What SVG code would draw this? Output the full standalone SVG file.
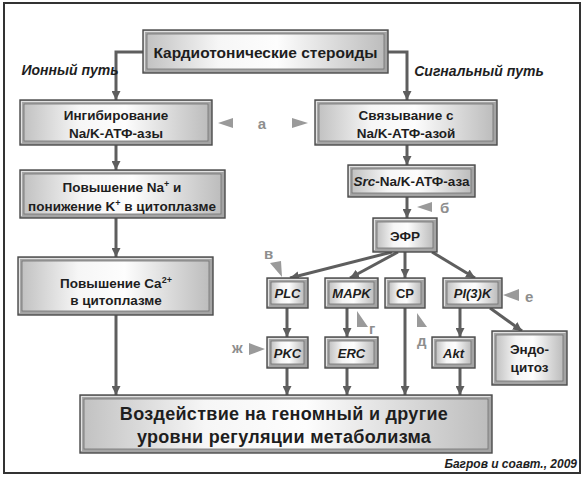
<svg xmlns="http://www.w3.org/2000/svg" width="586" height="482" viewBox="0 0 586 482">
<style>
.bo{fill:#a4a4a4;stroke:#4a4a4a;stroke-width:1.4}
.bi{fill:url(#g);stroke:#707070;stroke-width:0.8}
.hl{fill:none;stroke:#e2e2e2;stroke-width:1.2}
.t{font-family:"Liberation Sans",Arial,sans-serif;font-weight:bold;fill:#1e1e1e;text-anchor:middle}
.n{font-size:13.5px}
.i{font-style:italic}
.s{font-size:13px}
.lb{font-family:"Liberation Sans",Arial,sans-serif;font-weight:bold;fill:#8e8e8e;font-size:15px}
.tri{fill:#9a9a9a}
.c{fill:none;stroke:#5e5e5e;stroke-width:3;marker-end:url(#ah)}
</style>
<defs>
<linearGradient id="g" x1="0" y1="0" x2="1" y2="0">
<stop offset="0" stop-color="#c2c2c2"/>
<stop offset="0.3" stop-color="#f6f6f6"/>
<stop offset="0.55" stop-color="#fdfdfd"/>
<stop offset="1" stop-color="#bdbdbd"/>
</linearGradient>
<marker id="ah" viewBox="0 0 10 10" refX="10" refY="5" markerWidth="9" markerHeight="9" markerUnits="userSpaceOnUse" orient="auto">
<path d="M0,0 L10,5 L0,10 z" fill="#5e5e5e"/>
</marker>
</defs>
<rect x="0" y="0" width="586" height="482" fill="#ffffff"/>
<rect x="4" y="3" width="576" height="470" fill="none" stroke="#333" stroke-width="2"/>

<g id="connectors">
<path class="c" d="M143,52 H116 V100"/>
<path class="c" d="M388,52 H407 V100"/>
<path class="c" d="M116,145 V170"/>
<path class="c" d="M116,218 V257"/>
<path class="c" d="M116,315 V395"/>
<path class="c" d="M407,145 V165"/>
<path class="c" d="M407,197 V218"/>
<path class="c" d="M392,252 L290,278"/>
<path class="c" d="M398,252 L350,278"/>
<path class="c" d="M405,252 V278"/>
<path class="c" d="M432,252 L475,278"/>
<path class="c" d="M287,308 V337"/>
<path class="c" d="M347,308 V337"/>
<path class="c" d="M460,308 V337"/>
<path class="c" d="M490,308 L522,331"/>
<path class="c" d="M287,368 V395"/>
<path class="c" d="M347,368 V395"/>
<path class="c" d="M405,308 V395"/>
<path class="c" d="M460,368 V395"/>
</g>

<g id="n-top">
<rect class="bo" x="143" y="30" width="245" height="43"/>
<path class="hl" d="M144.5,71 V31.5 H386.5"/>
<rect class="bi" x="147" y="34" width="237" height="35"/>
<text class="t" x="265.5" y="57.5" font-size="15.5">Кардиотонические стероиды</text>
</g>

<text class="t i" x="70" y="75" font-size="14">Ионный путь</text>
<text class="t i" x="479" y="76" font-size="14">Сигнальный путь</text>

<g id="n-inh">
<rect class="bo" x="20" y="100" width="192" height="45"/>
<path class="hl" d="M21.5,143 V101.5 H210.5"/>
<rect class="bi" x="24" y="104" width="184" height="37"/>
<text class="t n" x="116" y="120">Ингибирование</text>
<text class="t n" x="116" y="138">Na/K-АТФ-азы</text>
</g>

<g id="n-bind">
<rect class="bo" x="315" y="100" width="182" height="45"/>
<path class="hl" d="M316.5,143 V101.5 H495.5"/>
<rect class="bi" x="319" y="104" width="174" height="37"/>
<text class="t n" x="406" y="120">Связывание с</text>
<text class="t n" x="406" y="138">Na/K-АТФ-азой</text>
</g>

<g id="lbl-a">
<path class="tri" d="M218,123 L233,118 L233,128 z"/>
<text class="lb" x="262" y="129" font-size="16" text-anchor="middle">а</text>
<path class="tri" d="M308,123 L292,118 L292,128 z"/>
</g>

<g id="n-na">
<rect class="bo" x="20" y="170" width="205" height="48"/>
<path class="hl" d="M21.5,216 V171.5 H223.5"/>
<rect class="bi" x="24" y="174" width="197" height="40"/>
<text class="t n" x="122" y="192">Повышение Na<tspan font-size="9" dy="-5">+</tspan><tspan dy="5"> и</tspan></text>
<text class="t n" x="122" y="211">понижение K<tspan font-size="9" dy="-5">+</tspan><tspan dy="5"> в цитоплазме</tspan></text>
</g>

<g id="n-ca">
<rect class="bo" x="18" y="257" width="195" height="58"/>
<path class="hl" d="M19.5,313 V258.5 H211.5"/>
<rect class="bi" x="22" y="261" width="187" height="50"/>
<text class="t n" x="116" y="288">Повышение Ca<tspan font-size="9" dy="-5">2+</tspan></text>
<text class="t n" x="116" y="305">в цитоплазме</text>
</g>

<g id="n-src">
<rect class="bo" x="348" y="165" width="127" height="32"/>
<path class="hl" d="M349.5,195 V166.5 H473.5"/>
<rect class="bi" x="352" y="169" width="119" height="24"/>
<text class="t n" x="411.5" y="186"><tspan font-style="italic">Src</tspan>-Na/K-АТФ-аза</text>
</g>

<g id="lbl-b">
<path class="tri" d="M417,207 L432,202 L432,212 z"/>
<text class="lb" x="440" y="213" font-size="16">б</text>
</g>

<g id="n-efr">
<rect class="bo" x="373" y="218" width="64" height="34"/>
<path class="hl" d="M374.5,250 V219.5 H435.5"/>
<rect class="bi" x="377" y="222" width="56" height="26"/>
<text class="t n" x="405" y="240.5">ЭФР</text>
</g>

<g id="n-plc">
<rect class="bo" x="267" y="278" width="41" height="30"/>
<path class="hl" d="M268.5,306 V279.5 H306.5"/>
<rect class="bi" x="271" y="282" width="33" height="22"/>
<text class="t s i" x="287.5" y="298">PLC</text>
</g>

<g id="n-mapk">
<rect class="bo" x="325" y="278" width="53" height="30"/>
<path class="hl" d="M326.5,306 V279.5 H376.5"/>
<rect class="bi" x="329" y="282" width="45" height="22"/>
<text class="t s i" x="351.5" y="298">MAPK</text>
</g>

<g id="n-cp">
<rect class="bo" x="385" y="278" width="40" height="30"/>
<path class="hl" d="M386.5,306 V279.5 H423.5"/>
<rect class="bi" x="389" y="282" width="32" height="22"/>
<text class="t s" x="405" y="298">CP</text>
</g>

<g id="n-pi3k">
<rect class="bo" x="443" y="278" width="59" height="30"/>
<path class="hl" d="M444.5,306 V279.5 H500.5"/>
<rect class="bi" x="447" y="282" width="51" height="22"/>
<text class="t s i" x="472.5" y="298">PI(3)K</text>
</g>

<g id="n-pkc">
<rect class="bo" x="267" y="337" width="41" height="31"/>
<path class="hl" d="M268.5,366 V338.5 H306.5"/>
<rect class="bi" x="271" y="341" width="33" height="23"/>
<text class="t s i" x="287.5" y="357.5">PKC</text>
</g>

<g id="n-erc">
<rect class="bo" x="325" y="337" width="53" height="31"/>
<path class="hl" d="M326.5,366 V338.5 H376.5"/>
<rect class="bi" x="329" y="341" width="45" height="23"/>
<text class="t s i" x="351.5" y="357.5">ERC</text>
</g>

<g id="n-akt">
<rect class="bo" x="432" y="337" width="43" height="31"/>
<path class="hl" d="M433.5,366 V338.5 H473.5"/>
<rect class="bi" x="436" y="341" width="35" height="23"/>
<text class="t s i" x="453.5" y="357.5">Akt</text>
</g>

<g id="n-endo">
<rect class="bo" x="492" y="331" width="75" height="54"/>
<path class="hl" d="M493.5,383 V332.5 H565.5"/>
<rect class="bi" x="496" y="335" width="67" height="46"/>
<text class="t n" x="529.5" y="354">Эндо-</text>
<text class="t n" x="529.5" y="372">цитоз</text>
</g>

<g id="lbl-v">
<text class="lb" x="264" y="259">в</text>
<path class="tri" d="M270,263 L281,261 L282,277 z"/>
</g>
<g id="lbl-g">
<path class="tri" d="M357,311 L357,327 L368,327 z"/>
<text class="lb" x="369" y="334">г</text>
</g>
<g id="lbl-d">
<path class="tri" d="M417,313 L417,327 L427,327 z"/>
<text class="lb" x="417" y="346">д</text>
</g>
<g id="lbl-e">
<path class="tri" d="M503,295 L519,289 L519,301 z"/>
<text class="lb" x="525" y="302" font-size="17">е</text>
</g>
<g id="lbl-zh">
<text class="lb" x="232" y="353" font-size="13">ж</text>
<path class="tri" d="M265,349 L249,343 L249,355 z"/>
</g>

<g id="n-bottom">
<rect class="bo" x="80" y="395" width="412" height="58"/>
<path class="hl" d="M81.5,451 V396.5 H490.5"/>
<rect class="bi" x="84" y="399" width="404" height="50"/>
<text class="t" x="284" y="420" font-size="18" letter-spacing="0.3">Воздействие на геномный и другие</text>
<text class="t" x="284" y="443" font-size="18" letter-spacing="0.3">уровни регуляции метаболизма</text>
</g>

<text class="t i" x="577" y="468" font-size="12" style="text-anchor:end">Багров и соавт., 2009</text>
</svg>
